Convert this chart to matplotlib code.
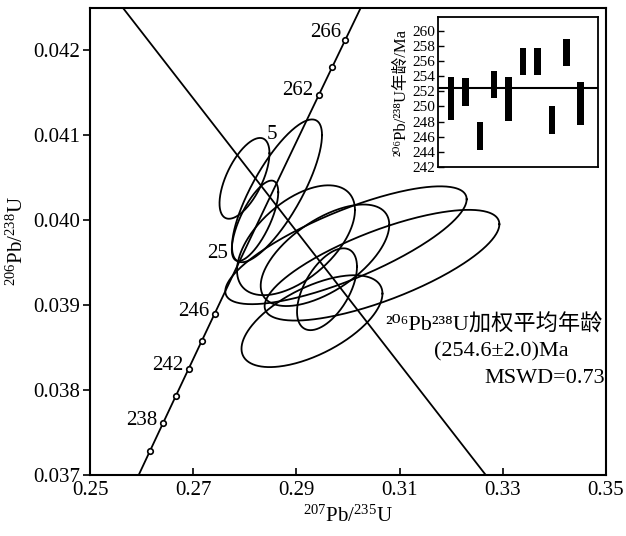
import numpy as np
import matplotlib
matplotlib.use('Agg')
import matplotlib.pyplot as plt

plt.rcParams['font.family'] = ['Liberation Serif', 'DejaVu Serif', 'Noto Sans CJK SC']
plt.rcParams['mathtext.fontset'] = 'custom'
plt.rcParams['mathtext.rm'] = 'Liberation Serif'
plt.rcParams['mathtext.it'] = 'Liberation Serif:italic'

# decay constants (1/yr)
L238 = 1.55125e-10
L235 = 9.8485e-10

# concordia ages (Ma)
curve_ages = list(range(228, 272, 2))
marker_ages = [236, 238, 240, 242, 244, 246, 262, 264, 266]
label_ages = [238, 242, 246, 250, 258, 262, 266]
label_text = ['238', '242', '246', '25', '5', '262', '266']
label_off = [(-4, 2), (-4, 2), (-4, 2), (-9, 4), (-15, 11), (-4, 3), (-3, 5)]
label_ha = ['right', 'right', 'right', 'right', 'center', 'right', 'right']

# spot ellipses: 207Pb/235U, 1s, 206Pb/238U, 1s, rho
ell_x = [0.27994, 0.28624, 0.28198, 0.28992, 0.29554, 0.29961, 0.30659, 0.29593, 0.29302]
ell_sx = [0.00484, 0.00872, 0.00450, 0.01143, 0.01246, 0.02339, 0.02275, 0.00581, 0.01366]
ell_y = [0.040494, 0.040347, 0.039994, 0.039765, 0.039588, 0.039706, 0.039471, 0.039188, 0.038812]
ell_sy = [0.000476, 0.000841, 0.000474, 0.000647, 0.000598, 0.000694, 0.000652, 0.000482, 0.000541]
ell_rho = [0.62, 0.78, 0.71, 0.55, 0.60, 0.78, 0.74, 0.55, 0.60]

# discordia end points
disc_x = [0.2564, 0.3267]
disc_y = [0.0425, 0.037]

# inset: 206Pb/238U ages
bar_idx = [1, 2, 3, 4, 5, 6, 7, 8, 9, 10]
bar_lo = [248.2, 250.1, 244.2, 251.1, 248.1, 254.2, 254.2, 246.4, 255.3, 247.5]
bar_hi = [253.85, 253.7, 247.9, 254.7, 253.85, 257.7, 257.7, 250.0, 258.9, 253.2]
mean_age = 252.4


def concordia(t):
    t = np.asarray(t, dtype=float) * 1e6
    return np.exp(L235 * t) - 1, np.exp(L238 * t) - 1


fig = plt.figure(figsize=(6.26, 5.36), dpi=100)
ax = fig.add_axes([0.1438, 0.1138, 0.8242, 0.8712])

cx, cy = concordia(curve_ages)
ax.plot(cx, cy, color='black', lw=1.3)
mx, my = concordia(marker_ages)
ax.plot(mx, my, 'o', ms=4, mfc='white', mec='black', mew=1.2)
lx, ly = concordia(label_ages)
for x, y, s, off, ha in zip(lx, ly, label_text, label_off, label_ha):
    ax.annotate(s, (x, y), xytext=off, textcoords='offset points',
                ha=ha, va='center', fontsize=15)

ax.plot(disc_x, disc_y, color='black', lw=1.3)

t = np.linspace(0, 2 * np.pi, 300)
for x0, sx, y0, sy, r in zip(ell_x, ell_sx, ell_y, ell_sy, ell_rho):
    ex = x0 + sx * np.cos(t)
    ey = y0 + sy * (r * np.cos(t) + np.sqrt(1 - r * r) * np.sin(t))
    ax.plot(ex, ey, color='black', lw=1.3)

ax.set_xlim(0.25, 0.35)
ax.set_ylim(0.037, 0.0425)
ax.set_xticks([0.25, 0.27, 0.29, 0.31, 0.33, 0.35])
ax.set_xticklabels(['%.2f' % v for v in [0.25, 0.27, 0.29, 0.31, 0.33, 0.35]])
ax.set_yticks([0.037, 0.038, 0.039, 0.040, 0.041, 0.042])
ax.set_yticklabels(['%.3f' % v for v in [0.037, 0.038, 0.039, 0.040, 0.041, 0.042]])
ax.tick_params(axis='x', direction='in', length=5, width=1.2, labelsize=15, pad=4)
ax.tick_params(axis='y', direction='out', length=5, width=1.2, labelsize=15, pad=2)
for sp in ax.spines.values():
    sp.set_linewidth(1.5)
ax.set_xlabel(r'$^{207}$Pb/$^{235}$U', fontsize=15, labelpad=4)
ax.set_ylabel(r'$^{206}$Pb/$^{238}$U', fontsize=15, labelpad=4)

ax.text(0.3072, 0.038765, '²⁰⁶Pb²³⁸U加权平均年龄', fontsize=16, ha='left', va='center')
ax.text(0.3297, 0.038447, '(254.6±2.0)Ma', fontsize=16, ha='center', va='center')
ax.text(0.3498, 0.038141, 'MSWD=0.73', fontsize=16, ha='right', va='center')

# inset
ins = fig.add_axes([0.6997, 0.6884, 0.2556, 0.2799])
ins.bar(bar_idx, np.array(bar_hi) - np.array(bar_lo), bottom=bar_lo,
        width=0.45, color='black')
ins.axhline(mean_age, color='black', lw=1.5)
ins.set_xlim(0.1, 11.2)
ins.set_ylim(242, 261.8)
ins.set_xticks([])
ins.set_yticks(list(range(242, 262, 2)))
ins.tick_params(axis='y', direction='in', length=4, width=1, labelsize=11, pad=2)
for sp in ins.spines.values():
    sp.set_linewidth(1.3)
ins.set_ylabel('²⁰⁶Pb/²³⁸U年龄/Ma', fontsize=12, labelpad=2)

fig.savefig('out.png', dpi=100)
